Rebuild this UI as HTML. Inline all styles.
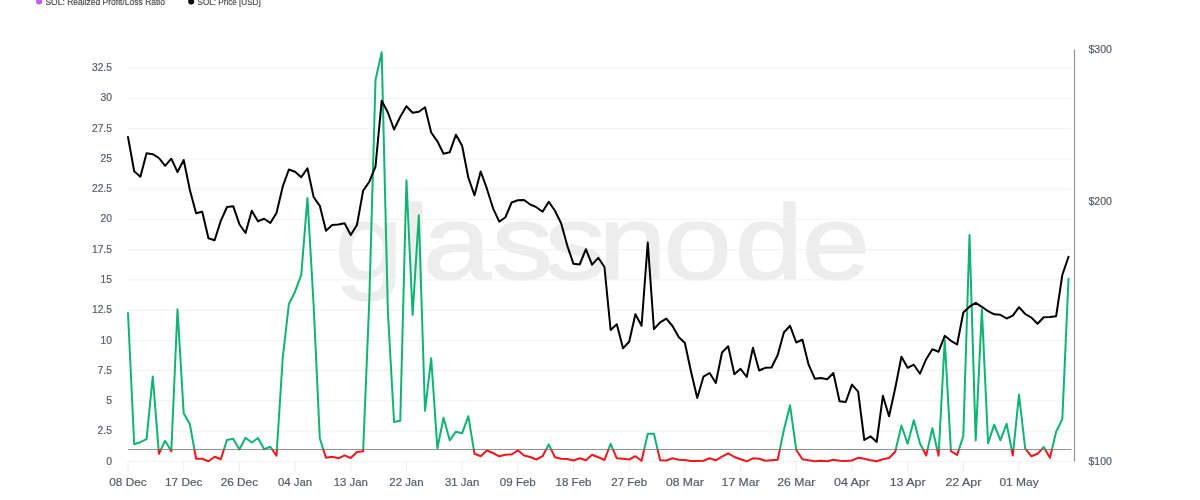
<!DOCTYPE html>
<html lang="en">
<head>
<meta charset="utf-8">
<title>SOL: Realized Profit/Loss Ratio</title>
<style>
html,body{margin:0;padding:0;background:#fff;}
body{width:1200px;height:500px;overflow:hidden;position:relative;font-family:"Liberation Sans",sans-serif;}
svg{position:absolute;left:0;top:0;display:block;}
.lbl{font-family:"Liberation Sans",sans-serif;font-size:11.5px;fill:#565b63;stroke:#565b63;stroke-width:0.2px;}
.leg{font-family:"Liberation Sans",sans-serif;font-size:9px;fill:#444;stroke:#444;stroke-width:0.15px;}
.wm{font-family:"Liberation Sans",sans-serif;font-size:106px;fill:#ededed;stroke:#ededed;stroke-width:1.4px;stroke-linejoin:round;}
</style>
</head>
<body>
<svg width="1200" height="500" viewBox="0 0 1200 500">
<defs>
<clipPath id="above"><rect x="0" y="0" width="1200" height="449.50"/></clipPath>
<clipPath id="below"><rect x="0" y="449.50" width="1200" height="60"/></clipPath>
</defs>
<rect x="0" y="0" width="1200" height="500" fill="#ffffff"/>
<text class="wm" transform="scale(1.16,1)" x="288.69 347.06 364.48 423.99 469.68 515.81 571.85 633.52 691.07" y="279.3">glassnode</text>
<g stroke="#f2f2f2" stroke-width="1" fill="none">
<line x1="128" y1="461.40" x2="1071.5" y2="461.40"/>
<line x1="128" y1="431.15" x2="1071.5" y2="431.15"/>
<line x1="128" y1="400.90" x2="1071.5" y2="400.90"/>
<line x1="128" y1="370.65" x2="1071.5" y2="370.65"/>
<line x1="128" y1="340.40" x2="1071.5" y2="340.40"/>
<line x1="128" y1="310.15" x2="1071.5" y2="310.15"/>
<line x1="128" y1="279.90" x2="1071.5" y2="279.90"/>
<line x1="128" y1="249.65" x2="1071.5" y2="249.65"/>
<line x1="128" y1="219.40" x2="1071.5" y2="219.40"/>
<line x1="128" y1="189.15" x2="1071.5" y2="189.15"/>
<line x1="128" y1="158.90" x2="1071.5" y2="158.90"/>
<line x1="128" y1="128.65" x2="1071.5" y2="128.65"/>
<line x1="128" y1="98.40" x2="1071.5" y2="98.40"/>
<line x1="128" y1="68.15" x2="1071.5" y2="68.15"/>
</g>
<g stroke="#ececec" stroke-width="1" fill="none">
<line x1="128.00" y1="461.5" x2="128.00" y2="471.5"/>
<line x1="183.69" y1="461.5" x2="183.69" y2="471.5"/>
<line x1="239.38" y1="461.5" x2="239.38" y2="471.5"/>
<line x1="295.07" y1="461.5" x2="295.07" y2="471.5"/>
<line x1="350.76" y1="461.5" x2="350.76" y2="471.5"/>
<line x1="406.45" y1="461.5" x2="406.45" y2="471.5"/>
<line x1="462.14" y1="461.5" x2="462.14" y2="471.5"/>
<line x1="517.83" y1="461.5" x2="517.83" y2="471.5"/>
<line x1="573.52" y1="461.5" x2="573.52" y2="471.5"/>
<line x1="629.21" y1="461.5" x2="629.21" y2="471.5"/>
<line x1="684.90" y1="461.5" x2="684.90" y2="471.5"/>
<line x1="740.59" y1="461.5" x2="740.59" y2="471.5"/>
<line x1="796.28" y1="461.5" x2="796.28" y2="471.5"/>
<line x1="851.97" y1="461.5" x2="851.97" y2="471.5"/>
<line x1="907.66" y1="461.5" x2="907.66" y2="471.5"/>
<line x1="963.35" y1="461.5" x2="963.35" y2="471.5"/>
<line x1="1019.04" y1="461.5" x2="1019.04" y2="471.5"/>
</g>
<line x1="128" y1="449.5" x2="1071.5" y2="449.5" stroke="#929292" stroke-width="1.1"/>
<line x1="1074.5" y1="49.5" x2="1074.5" y2="461.6" stroke="#949494" stroke-width="1.2"/>
<polyline points="128.00,313.0 134.19,444.2 140.38,442.2 146.56,439.2 152.75,376.4 158.94,453.7 165.12,440.8 171.31,451.3 177.50,309.2 183.69,413.3 189.88,424.2 196.06,458.8 202.25,458.8 208.44,461.2 214.62,456.7 220.81,459.2 227.00,440.0 233.19,438.8 239.38,449.5 245.56,437.8 251.75,442.5 257.94,438.0 264.12,449.2 270.31,446.7 276.50,455.8 282.69,358.3 288.88,304.0 295.06,291.7 301.25,274.8 307.44,198.0 313.62,305.0 319.81,438.5 326.00,457.8 332.19,456.7 338.38,458.3 344.56,455.3 350.75,458.0 356.94,452.0 363.12,451.2 369.31,300.0 375.50,80.0 381.69,52.2 387.88,312.0 394.06,422.0 400.25,420.8 406.44,180.3 412.62,315.0 418.81,215.3 425.00,410.8 431.19,358.3 437.38,448.3 443.56,417.8 449.75,440.3 455.94,431.7 462.12,433.3 468.31,416.2 474.50,453.7 480.69,456.2 486.88,450.5 493.06,453.0 499.25,456.3 505.44,454.7 511.62,454.5 517.81,450.3 524.00,455.5 530.19,457.0 536.38,459.5 542.56,456.2 548.75,444.5 554.94,457.2 561.12,458.7 567.31,459.0 573.50,460.5 579.69,458.3 585.88,460.3 592.06,454.7 598.25,457.2 604.44,460.0 610.62,443.8 616.81,458.3 623.00,458.7 629.19,459.5 635.38,456.2 641.56,460.8 647.75,433.7 653.94,433.8 660.12,460.3 666.31,460.5 672.50,458.2 678.69,459.7 684.88,460.0 691.06,461.0 697.25,461.0 703.44,460.7 709.62,458.3 715.81,460.3 722.00,456.7 728.19,453.3 734.38,457.0 740.56,459.2 746.75,461.3 752.94,458.3 759.12,458.7 765.31,460.8 771.50,460.3 777.69,459.7 783.88,430.0 790.06,405.3 796.25,450.0 802.44,459.2 808.62,460.3 814.81,461.2 821.00,460.8 827.19,461.3 833.38,459.7 839.56,460.8 845.75,461.0 851.94,460.5 858.12,457.8 864.31,458.8 870.50,460.3 876.69,461.3 882.88,459.2 889.06,458.0 895.25,451.7 901.44,425.5 907.62,443.8 913.81,420.3 920.00,443.5 926.19,455.5 932.38,428.3 938.56,455.8 944.75,340.0 950.94,451.2 957.12,455.0 963.31,436.0 969.50,235.0 975.69,440.4 981.88,309.2 988.06,443.2 994.25,424.6 1000.44,440.3 1006.62,423.8 1012.81,455.5 1019.00,394.6 1025.19,448.5 1031.38,456.3 1037.56,453.8 1043.75,447.0 1049.94,457.8 1056.12,431.7 1062.31,419.2 1068.50,278.7" fill="none" stroke="#0fb374" stroke-width="2" stroke-linejoin="round" stroke-linecap="round" clip-path="url(#above)"/>
<polyline points="128.00,313.0 134.19,444.2 140.38,442.2 146.56,439.2 152.75,376.4 158.94,453.7 165.12,440.8 171.31,451.3 177.50,309.2 183.69,413.3 189.88,424.2 196.06,458.8 202.25,458.8 208.44,461.2 214.62,456.7 220.81,459.2 227.00,440.0 233.19,438.8 239.38,449.5 245.56,437.8 251.75,442.5 257.94,438.0 264.12,449.2 270.31,446.7 276.50,455.8 282.69,358.3 288.88,304.0 295.06,291.7 301.25,274.8 307.44,198.0 313.62,305.0 319.81,438.5 326.00,457.8 332.19,456.7 338.38,458.3 344.56,455.3 350.75,458.0 356.94,452.0 363.12,451.2 369.31,300.0 375.50,80.0 381.69,52.2 387.88,312.0 394.06,422.0 400.25,420.8 406.44,180.3 412.62,315.0 418.81,215.3 425.00,410.8 431.19,358.3 437.38,448.3 443.56,417.8 449.75,440.3 455.94,431.7 462.12,433.3 468.31,416.2 474.50,453.7 480.69,456.2 486.88,450.5 493.06,453.0 499.25,456.3 505.44,454.7 511.62,454.5 517.81,450.3 524.00,455.5 530.19,457.0 536.38,459.5 542.56,456.2 548.75,444.5 554.94,457.2 561.12,458.7 567.31,459.0 573.50,460.5 579.69,458.3 585.88,460.3 592.06,454.7 598.25,457.2 604.44,460.0 610.62,443.8 616.81,458.3 623.00,458.7 629.19,459.5 635.38,456.2 641.56,460.8 647.75,433.7 653.94,433.8 660.12,460.3 666.31,460.5 672.50,458.2 678.69,459.7 684.88,460.0 691.06,461.0 697.25,461.0 703.44,460.7 709.62,458.3 715.81,460.3 722.00,456.7 728.19,453.3 734.38,457.0 740.56,459.2 746.75,461.3 752.94,458.3 759.12,458.7 765.31,460.8 771.50,460.3 777.69,459.7 783.88,430.0 790.06,405.3 796.25,450.0 802.44,459.2 808.62,460.3 814.81,461.2 821.00,460.8 827.19,461.3 833.38,459.7 839.56,460.8 845.75,461.0 851.94,460.5 858.12,457.8 864.31,458.8 870.50,460.3 876.69,461.3 882.88,459.2 889.06,458.0 895.25,451.7 901.44,425.5 907.62,443.8 913.81,420.3 920.00,443.5 926.19,455.5 932.38,428.3 938.56,455.8 944.75,340.0 950.94,451.2 957.12,455.0 963.31,436.0 969.50,235.0 975.69,440.4 981.88,309.2 988.06,443.2 994.25,424.6 1000.44,440.3 1006.62,423.8 1012.81,455.5 1019.00,394.6 1025.19,448.5 1031.38,456.3 1037.56,453.8 1043.75,447.0 1049.94,457.8 1056.12,431.7 1062.31,419.2 1068.50,278.7" fill="none" stroke="#f1161c" stroke-width="2" stroke-linejoin="round" stroke-linecap="round" clip-path="url(#below)"/>
<polyline points="128.00,137.0 134.19,171.3 140.38,176.7 146.56,153.3 152.75,154.2 158.94,158.0 165.12,165.8 171.31,158.7 177.50,172.0 183.69,160.0 189.88,190.0 196.06,213.3 202.25,211.7 208.44,238.3 214.62,240.3 220.81,220.8 227.00,207.0 233.19,206.2 239.38,224.2 245.56,233.0 251.75,210.8 257.94,221.2 264.12,218.7 270.31,223.0 276.50,213.0 282.69,186.7 288.88,169.5 295.06,171.7 301.25,177.2 307.44,168.3 313.62,197.0 319.81,205.8 326.00,230.8 332.19,225.0 338.38,224.5 344.56,223.3 350.75,235.0 356.94,225.0 363.12,190.8 369.31,181.7 375.50,166.7 381.69,100.8 387.88,112.5 394.06,129.5 400.25,116.7 406.44,106.3 412.62,112.8 418.81,111.7 425.00,107.2 431.19,132.5 437.38,141.3 443.56,153.8 449.75,152.2 455.94,134.7 462.12,145.8 468.31,177.5 474.50,195.3 480.69,171.5 486.88,188.7 493.06,208.3 499.25,221.7 505.44,217.2 511.62,202.5 517.81,200.3 524.00,200.0 530.19,204.5 536.38,207.2 542.56,211.7 548.75,201.7 554.94,210.8 561.12,223.3 567.31,245.8 573.50,263.8 579.69,264.5 585.88,249.2 592.06,264.7 598.25,257.8 604.44,267.0 610.62,330.0 616.81,324.2 623.00,348.3 629.19,341.7 635.38,314.2 641.56,325.8 647.75,242.5 653.94,329.2 660.12,322.3 666.31,318.7 672.50,326.0 678.69,337.0 684.88,343.0 691.06,371.7 697.25,398.0 703.44,376.7 709.62,373.0 715.81,383.0 722.00,352.5 728.19,346.2 734.38,374.2 740.56,368.8 746.75,377.0 752.94,347.8 759.12,370.5 765.31,367.8 771.50,367.5 777.69,355.0 783.88,332.5 790.06,325.8 796.25,342.5 802.44,339.7 808.62,364.7 814.81,378.7 821.00,378.0 827.19,379.2 833.38,373.0 839.56,401.3 845.75,402.0 851.94,384.6 858.12,391.7 864.31,440.0 870.50,436.3 876.69,442.0 882.88,395.8 889.06,416.3 895.25,388.0 901.44,356.7 907.62,367.8 913.81,364.7 920.00,373.7 926.19,359.2 932.38,349.2 938.56,351.7 944.75,335.8 950.94,340.8 957.12,344.5 963.31,312.5 969.50,306.7 975.69,302.9 981.88,306.8 988.06,311.2 994.25,314.3 1000.44,314.8 1006.62,318.5 1012.81,315.6 1019.00,307.2 1025.19,314.0 1031.38,317.6 1037.56,323.8 1043.75,317.2 1049.94,317.0 1056.12,316.3 1062.31,275.0 1068.50,256.7" fill="none" stroke="#000000" stroke-width="2" stroke-linejoin="round" stroke-linecap="round"/>
<g class="lbl" text-anchor="end">
<text x="112.0" y="464.70" textLength="5.8" lengthAdjust="spacingAndGlyphs">0</text>
<text x="112.0" y="434.42" textLength="14.4" lengthAdjust="spacingAndGlyphs">2.5</text>
<text x="112.0" y="404.14" textLength="5.8" lengthAdjust="spacingAndGlyphs">5</text>
<text x="112.0" y="373.86" textLength="14.4" lengthAdjust="spacingAndGlyphs">7.5</text>
<text x="112.0" y="343.58" textLength="11.5" lengthAdjust="spacingAndGlyphs">10</text>
<text x="112.0" y="313.30" textLength="20.1" lengthAdjust="spacingAndGlyphs">12.5</text>
<text x="112.0" y="283.02" textLength="11.5" lengthAdjust="spacingAndGlyphs">15</text>
<text x="112.0" y="252.74" textLength="20.1" lengthAdjust="spacingAndGlyphs">17.5</text>
<text x="112.0" y="222.46" textLength="11.5" lengthAdjust="spacingAndGlyphs">20</text>
<text x="112.0" y="192.18" textLength="20.1" lengthAdjust="spacingAndGlyphs">22.5</text>
<text x="112.0" y="161.90" textLength="11.5" lengthAdjust="spacingAndGlyphs">25</text>
<text x="112.0" y="131.62" textLength="20.1" lengthAdjust="spacingAndGlyphs">27.5</text>
<text x="112.0" y="101.34" textLength="11.5" lengthAdjust="spacingAndGlyphs">30</text>
<text x="112.0" y="71.06" textLength="20.1" lengthAdjust="spacingAndGlyphs">32.5</text>
</g>
<g class="lbl" text-anchor="start">
<text x="1088.5" y="52.60" textLength="23.5" lengthAdjust="spacingAndGlyphs">$300</text>
<text x="1088.5" y="204.60" textLength="23.5" lengthAdjust="spacingAndGlyphs">$200</text>
<text x="1088.5" y="464.60" textLength="23.5" lengthAdjust="spacingAndGlyphs">$100</text>
</g>
<g class="lbl" text-anchor="middle">
<text x="128.00" y="485.5" textLength="37.4" lengthAdjust="spacingAndGlyphs">08 Dec</text>
<text x="183.69" y="485.5" textLength="37.4" lengthAdjust="spacingAndGlyphs">17 Dec</text>
<text x="239.38" y="485.5" textLength="37.4" lengthAdjust="spacingAndGlyphs">26 Dec</text>
<text x="295.07" y="485.5" textLength="34.2" lengthAdjust="spacingAndGlyphs">04 Jan</text>
<text x="350.76" y="485.5" textLength="34.2" lengthAdjust="spacingAndGlyphs">13 Jan</text>
<text x="406.45" y="485.5" textLength="34.2" lengthAdjust="spacingAndGlyphs">22 Jan</text>
<text x="462.14" y="485.5" textLength="34.2" lengthAdjust="spacingAndGlyphs">31 Jan</text>
<text x="517.83" y="485.5" textLength="35.9" lengthAdjust="spacingAndGlyphs">09 Feb</text>
<text x="573.52" y="485.5" textLength="35.9" lengthAdjust="spacingAndGlyphs">18 Feb</text>
<text x="629.21" y="485.5" textLength="35.9" lengthAdjust="spacingAndGlyphs">27 Feb</text>
<text x="684.90" y="485.5" textLength="37.9" lengthAdjust="spacingAndGlyphs">08 Mar</text>
<text x="740.59" y="485.5" textLength="37.9" lengthAdjust="spacingAndGlyphs">17 Mar</text>
<text x="796.28" y="485.5" textLength="37.9" lengthAdjust="spacingAndGlyphs">26 Mar</text>
<text x="851.97" y="485.5" textLength="35.9" lengthAdjust="spacingAndGlyphs">04 Apr</text>
<text x="907.66" y="485.5" textLength="35.9" lengthAdjust="spacingAndGlyphs">13 Apr</text>
<text x="963.35" y="485.5" textLength="35.9" lengthAdjust="spacingAndGlyphs">22 Apr</text>
<text x="1019.04" y="485.5" textLength="39.2" lengthAdjust="spacingAndGlyphs">01 May</text>
</g>
<circle cx="39.1" cy="1.5" r="3" fill="#bf5af2"/>
<text class="leg" x="45.4" y="5.2" textLength="119.6" lengthAdjust="spacingAndGlyphs">SOL: Realized Profit/Loss Ratio</text>
<circle cx="191.2" cy="1.5" r="3" fill="#000"/>
<text class="leg" x="197.5" y="5.2" textLength="63.2" lengthAdjust="spacingAndGlyphs">SOL: Price [USD]</text>
</svg>
</body>
</html>
